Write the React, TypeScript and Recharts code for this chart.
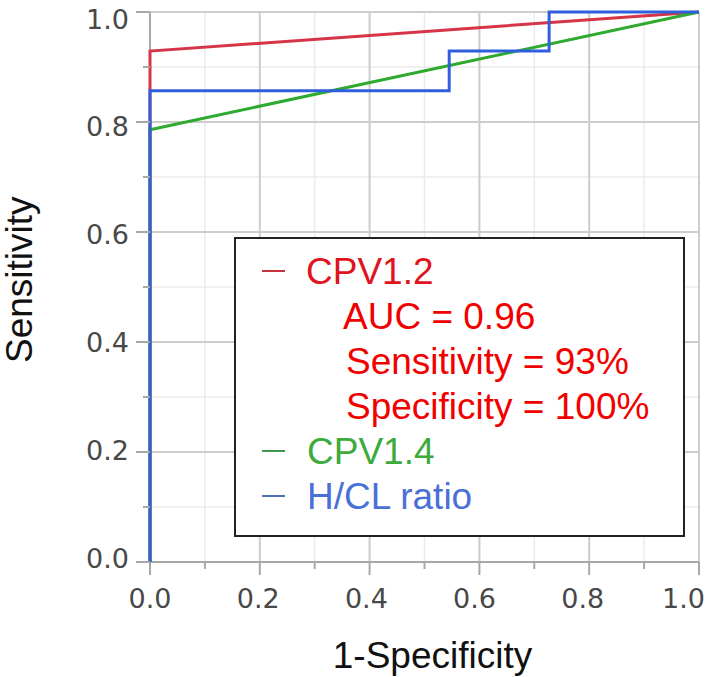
import React from 'react';
import { LineChart, Line, XAxis, YAxis, CartesianGrid } from 'recharts';

// ROC curve points (1-Specificity, Sensitivity)
const cpv12X = [0, 0, 1];
const cpv12Y = [0, 0.929, 1];
const cpv14X = [0, 0, 1];
const cpv14Y = [0, 0.786, 1];
const hclX = [0, 0, 0.545, 0.545, 0.727, 0.727, 1];
const hclY = [0, 0.857, 0.857, 0.929, 0.929, 1, 1];

const allTicks = [0, 0.1, 0.2, 0.3, 0.4, 0.5, 0.6, 0.7, 0.8, 0.9, 1.0];
const majorTicks = [0, 0.2, 0.4, 0.6, 0.8, 1.0];
const tickLabels = ['0.0', '0.2', '0.4', '0.6', '0.8', '1.0'];
const originTicks = [0];

const seriesNames = ['CPV1.2', 'CPV1.4', 'H/CL ratio'];
const cpv12Stats = ['AUC = 0.96', 'Sensitivity = 93%', 'Specificity = 100%'];

const xTitle = '1-Specificity';
const yTitle = 'Sensitivity';

const toPoints = (xs: number[], ys: number[]) => xs.map((x, i) => ({ x, y: ys[i] }));
const cpv12Data = toPoints(cpv12X, cpv12Y);
const cpv14Data = toPoints(cpv14X, cpv14Y);
const hclData = toPoints(hclX, hclY);

const RED = '#d63447';
const GREEN = '#2eaa2e';
const BLUE = '#2f5fdc';
const TICK_FONT = '"DejaVu Sans", Verdana, sans-serif';
const TITLE_FONT = '"Liberation Sans", Arial, sans-serif';

const isMajor = (v: number) => majorTicks.some((m) => Math.abs(m - v) < 1e-6);
const labelIndex = (v: number) => majorTicks.findIndex((m) => Math.abs(m - v) < 1e-6);

const XTick = (props: any) => {
  const { x, y, payload } = props;
  const v = payload.value;
  const major = isMajor(v);
  const idx = labelIndex(v);
  const last = idx === majorTicks.length - 1;
  return (
    <g>
      <line x1={x} x2={x} y1={y} y2={y + (major ? 13 : 7)} stroke="#a8a8a8" strokeWidth={2} />
      {major && (
        <text
          x={last ? 705 : x - 8 * v}
          y={y + 46}
          textAnchor={last ? 'end' : 'middle'}
          fontFamily={TICK_FONT}
          fontSize={27}
          fill="#484848"
        >
          {tickLabels[idx]}
        </text>
      )}
    </g>
  );
};

const YTick = (props: any) => {
  const { x, y, payload } = props;
  const v = payload.value;
  const major = isMajor(v);
  const idx = labelIndex(v);
  return (
    <g>
      <line x1={x} x2={x - (major ? 14 : 7)} y1={y} y2={y} stroke="#a8a8a8" strokeWidth={2} />
      {major && (
        <text x={x - 21} y={y + 5.5 + 11 * v} textAnchor="end" fontFamily={TICK_FONT} fontSize={27} fill="#484848">
          {tickLabels[idx]}
        </text>
      )}
    </g>
  );
};

const Legend = () => {
  const left = 235;
  const top = 238;
  const w = 449;
  const h = 298;
  const rowCenters = [271, 316, 361, 406, 451, 496];
  const fs = 37;
  const capHalf = (fs * 0.716) / 2;
  return (
    <svg width={708} height={677} style={{ position: 'absolute', left: 0, top: 0, pointerEvents: 'none' }}>
      <rect x={left} y={top} width={w} height={h} fill="#fff" stroke="#222" strokeWidth={2} />
      <g fontFamily={TITLE_FONT} fontSize={fs}>
        <line x1={262} x2={285} y1={rowCenters[0]} y2={rowCenters[0]} stroke="#c8323c" strokeWidth={2} />
        <text x={306} y={rowCenters[0] + capHalf} fill="#e0141e">{seriesNames[0]}</text>
        {cpv12Stats.map((s, i) => (
          <text key={s} x={i === 0 ? 343 : 346} y={rowCenters[i + 1] + capHalf} fill="#f20000">{s}</text>
        ))}
        <line x1={262} x2={285} y1={rowCenters[4]} y2={rowCenters[4]} stroke="#3c9a50" strokeWidth={2} />
        <text x={307} y={rowCenters[4] + capHalf} fill="#3cab3c">{seriesNames[1]}</text>
        <line x1={262} x2={285} y1={rowCenters[5]} y2={rowCenters[5]} stroke="#5070b8" strokeWidth={2} />
        <text x={307} y={rowCenters[5] + capHalf} fill="#4a70d8">{seriesNames[2]}</text>
      </g>
    </svg>
  );
};

export default function App() {
  return (
    <div style={{ position: 'absolute', left: 0, top: 0, width: 708, height: 677, background: '#fff' }}>
      <LineChart width={708} height={677} margin={{ top: 12, right: 9, left: 0, bottom: 0 }}>
        <CartesianGrid stroke="#ebebeb" strokeWidth={1.5} />
        <CartesianGrid stroke="#cdcdcd" strokeWidth={2} horizontalValues={majorTicks} verticalValues={majorTicks} />
        <CartesianGrid stroke="#a8a8a8" strokeWidth={2} horizontalValues={originTicks} verticalValues={originTicks} />
        <XAxis
          type="number"
          dataKey="x"
          domain={[0, 1]}
          ticks={allTicks}
          interval={0}
          height={115}
          tickSize={0}
          tickMargin={0}
          tickLine={false}
          axisLine={false}
          tick={<XTick />}
          label={{ value: xTitle, position: 'insideBottom', offset: 9, dx: 8, fontFamily: TITLE_FONT, fontSize: 37, fill: '#111' }}
          allowDuplicatedCategory={false}
        />
        <YAxis
          type="number"
          dataKey="y"
          domain={[0, 1]}
          ticks={allTicks}
          interval={0}
          width={150}
          tickSize={0}
          tickMargin={0}
          tickLine={false}
          axisLine={false}
          tick={<YTick />}
          label={{ value: yTitle, angle: -90, position: 'insideLeft', offset: 0, dx: 19, dy: 76, fontFamily: TITLE_FONT, fontSize: 37, fill: '#111' }}
        />
        <Line data={cpv12Data} dataKey="y" type="linear" stroke={RED} strokeWidth={3} dot={false} isAnimationActive={false} name={seriesNames[0]} />
        <Line data={cpv14Data} dataKey="y" type="linear" stroke={GREEN} strokeWidth={3} dot={false} isAnimationActive={false} name={seriesNames[1]} />
        <Line data={hclData} dataKey="y" type="linear" stroke={BLUE} strokeWidth={3} dot={false} isAnimationActive={false} name={seriesNames[2]} />
      </LineChart>
      <Legend />
    </div>
  );
}
